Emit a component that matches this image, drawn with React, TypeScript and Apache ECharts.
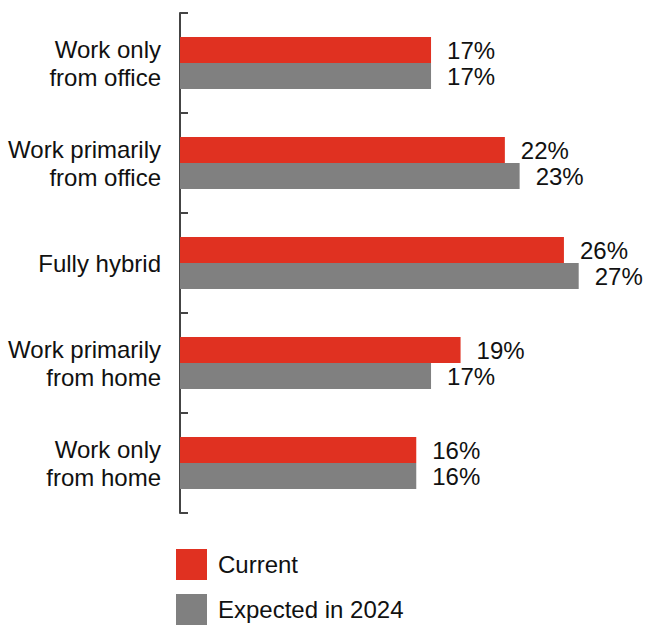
import React, { useEffect, useRef } from "react";
import * as echarts from "echarts";

const categories = [
  "Work only\nfrom office",
  "Work primarily\nfrom office",
  "Fully hybrid",
  "Work primarily\nfrom home",
  "Work only\nfrom home",
];
const currentValues = [17, 22, 26, 19, 16];
const expectedValues = [17, 23, 27, 17, 16];
const seriesNames = ["Current", "Expected in 2024"];

export default function App() {
  const ref = useRef<HTMLDivElement>(null);
  useEffect(() => {
    if (!ref.current) return;
    const chart = echarts.init(ref.current, null, { renderer: "svg" });
    const font = "'Liberation Sans', Arial, Helvetica, sans-serif";
    const label = {
      show: true,
      position: "right" as const,
      distance: 16,
      formatter: "{c}%",
      fontSize: 24,
      color: "#111",
      fontFamily: font,
    };
    chart.setOption({
      animation: false,
      grid: { left: 180, top: 13, height: 500, right: 22 },
      xAxis: { type: "value", min: 0, max: 30, show: false },
      yAxis: {
        type: "category",
        data: categories,
        inverse: true,
        axisLine: { show: true, lineStyle: { color: "#444", width: 2 } },
        axisTick: { show: true, inside: true, length: 8, lineStyle: { color: "#444", width: 2 } },
        axisLabel: {
          fontSize: 24,
          lineHeight: 28,
          color: "#111",
          fontFamily: font,
          margin: 19,
          align: "right",
        },
      },
      legend: {
        orient: "vertical",
        left: 176,
        top: 549,
        padding: 0,
        itemWidth: 31,
        itemHeight: 31,
        itemGap: 14,
        icon: "rect",
        textStyle: { fontSize: 24, color: "#111", fontFamily: font, padding: [0, 0, 0, 6] },
        data: seriesNames,
      },
      series: [
        {
          name: seriesNames[0],
          type: "bar",
          data: currentValues,
          barWidth: 26,
          barGap: "0%",
          itemStyle: { color: "#E03121" },
          label,
        },
        {
          name: seriesNames[1],
          type: "bar",
          data: expectedValues,
          barWidth: 26,
          barGap: "0%",
          itemStyle: { color: "#808080" },
          label,
        },
      ],
    });
    return () => chart.dispose();
  }, []);
  return (
    <div
      ref={ref}
      style={{ position: "fixed", left: 0, top: 0, width: 645, height: 625, background: "#fff" }}
    />
  );
}
